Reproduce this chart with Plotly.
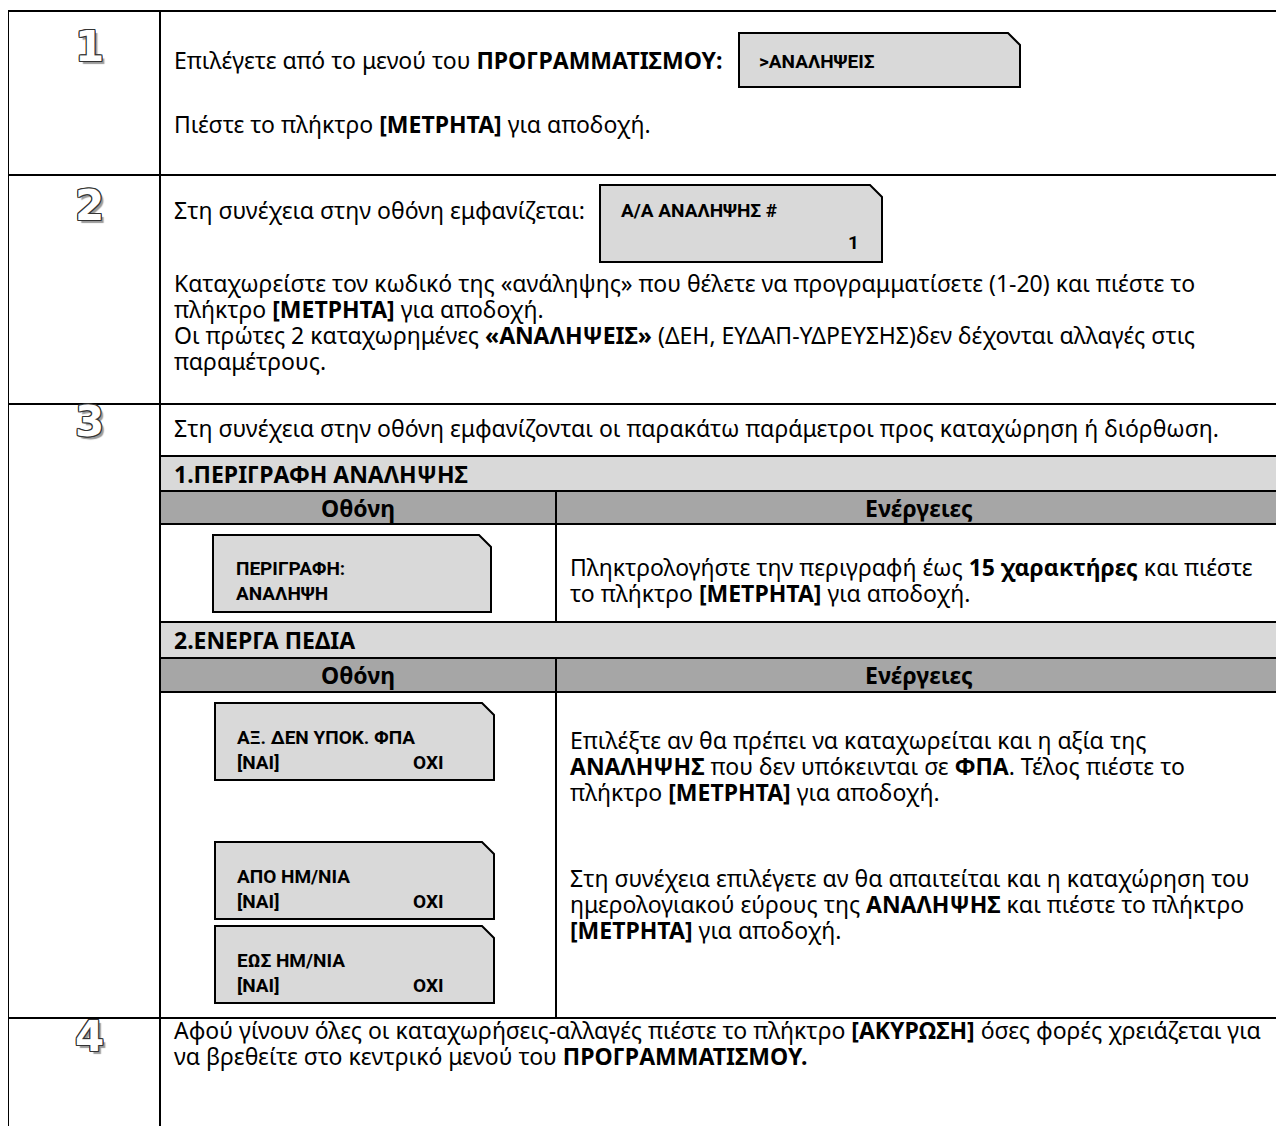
import plotly.graph_objects as go

# ---------------- content (data) ----------------
step_labels = ["1", "2", "3", "4"]

row1_lines = ["Επιλέγετε από το μενού του <b>ΠΡΟΓΡΑΜΜΑΤΙΣΜΟΥ:</b>",
              "Πιέστε το πλήκτρο <b>[ΜΕΤΡΗΤΑ]</b> για αποδοχή."]
row1_screen = [">ΑΝΑΛΗΨΕΙΣ"]

row2_lines = ["Στη συνέχεια στην οθόνη εμφανίζεται:",
              "Καταχωρείστε τον κωδικό της «ανάληψης» που θέλετε να προγραμματίσετε (1-20) και πιέστε το",
              "πλήκτρο <b>[ΜΕΤΡΗΤΑ]</b> για αποδοχή.",
              "Οι πρώτες 2 καταχωρημένες <b>«ΑΝΑΛΗΨΕΙΣ»</b> (ΔΕΗ, ΕΥΔΑΠ-ΥΔΡΕΥΣΗΣ)δεν δέχονται αλλαγές στις",
              "παραμέτρους."]
row2_screen = ["Α/Α ΑΝΑΛΗΨΗΣ #", "1"]

row3_intro = "Στη συνέχεια στην οθόνη εμφανίζονται οι παρακάτω παράμετροι προς καταχώρηση ή διόρθωση."
section_titles = ["1.ΠΕΡΙΓΡΑΦΗ ΑΝΑΛΗΨΗΣ", "2.ΕΝΕΡΓΑ ΠΕΔΙΑ"]
column_headers = ["Οθόνη", "Ενέργειες"]

sec1_screen = ["ΠΕΡΙΓΡΑΦΗ:", "ΑΝΑΛΗΨΗ"]
sec1_actions = ["Πληκτρολογήστε την περιγραφή έως <b>15 χαρακτήρες</b> και πιέστε",
                "το πλήκτρο <b>[ΜΕΤΡΗΤΑ]</b> για αποδοχή."]

sec2_screens = [["ΑΞ. ΔΕΝ ΥΠΟΚ. ΦΠΑ", "[ΝΑΙ]", "ΟΧΙ"],
                ["ΑΠΟ ΗΜ/ΝΙΑ", "[ΝΑΙ]", "ΟΧΙ"],
                ["ΕΩΣ ΗΜ/ΝΙΑ", "[ΝΑΙ]", "ΟΧΙ"]]
sec2_actions_a = ["Επιλέξτε αν θα πρέπει να καταχωρείται και η αξία της",
                  "<b>ΑΝΑΛΗΨΗΣ</b> που δεν υπόκεινται σε <b>ΦΠΑ</b>. Τέλος πιέστε το",
                  "πλήκτρο <b>[ΜΕΤΡΗΤΑ]</b> για αποδοχή."]
sec2_actions_b = ["Στη συνέχεια επιλέγετε αν θα απαιτείται και η καταχώρηση του",
                  "ημερολογιακού εύρους της <b>ΑΝΑΛΗΨΗΣ</b> και πιέστε το πλήκτρο",
                  "<b>[ΜΕΤΡΗΤΑ]</b> για αποδοχή."]

row4_lines = ["Αφού γίνουν όλες οι καταχωρήσεις-αλλαγές πιέστε το πλήκτρο <b>[ΑΚΥΡΩΣΗ]</b> όσες φορές χρειάζεται για",
              "να βρεθείτε στο κεντρικό μενού του <b>ΠΡΟΓΡΑΜΜΑΤΙΣΜΟΥ.</b>"]

# ---------------- layout geometry (page pixel units) ----------------
PAGE_W, PAGE_H = 1284, 1126
BODY_MARGIN = 8            # default page margin around the plot div
X_LEFT, X_DIV, X_RIGHT = 8, 160, 1300
Y_TOP = 11
ROW_LINES = [175, 404, 1018]
SUB_X_DIV = 556
TEXT_X = 172
ACT_X = 568
LINE_H = 26

BODY_FONT = dict(family="Noto Sans, Open Sans, DejaVu Sans", size=23, color="#000")
SCR_FONT = dict(family="Liberation Sans Narrow, Roboto, Liberation Sans", size=19, color="#000")
DIGIT_FONT = dict(family="DejaVu Sans", size=42, color="white", weight="bold",
                  shadow=("-1px -1px 0 #333, 1px -1px 0 #333, -1px 1px 0 #333, 1px 1px 0 #333, "
                          "0 -1px 0 #333, 0 1px 0 #333, -1px 0 0 #333, 1px 0 0 #333, "
                          "3px 3px 1px #9a9a9a"))

LIGHT = "#d9d9d9"
DARK = "#a6a6a6"

fig = go.Figure()
shapes = []
annotations = []


def line(x0, y0, x1, y1, w=2):
    shapes.append(dict(type="line", xref="x", yref="y", x0=x0, y0=y0, x1=x1, y1=y1,
                       line=dict(color="black", width=w), layer="above"))


def rect(x0, y0, x1, y1, color):
    shapes.append(dict(type="rect", xref="x", yref="y", x0=x0, y0=y0, x1=x1, y1=y1,
                       fillcolor=color, line=dict(width=0), layer="below"))


def text(x, y, s, font=None, anchor="left", bold=False):
    f = dict(font or BODY_FONT)
    annotations.append(dict(x=x, y=y, xref="x", yref="y", text=("<b>%s</b>" % s) if bold else s,
                            showarrow=False, xanchor=anchor, yanchor="middle", font=f,
                            align=anchor if anchor != "center" else "center"))


def screen(x0, y0, x1, y1, c=12):
    path = "M %d,%d L %d,%d L %d,%d L %d,%d L %d,%d Z" % (x0, y0, x1 - c, y0, x1, y0 + c, x1, y1, x0, y1)
    shapes.append(dict(type="path", xref="x", yref="y", path=path, fillcolor=LIGHT,
                       line=dict(color="black", width=2), layer="above"))


# grey bands of the sub table: (light top, dark top, dark bottom, section bottom)
sub_rows = [(456, 491, 524, 622), (622, 658, 692, 1018)]
for (a, b, c, d) in sub_rows:
    rect(X_DIV, a, X_RIGHT, b, LIGHT)
    rect(X_DIV, b, X_RIGHT, c, DARK)

# main table borders
line(X_LEFT, Y_TOP, X_RIGHT, Y_TOP)
line(X_LEFT, Y_TOP, X_LEFT, PAGE_H + 10)
line(X_DIV, Y_TOP, X_DIV, PAGE_H + 10)
for y in ROW_LINES:
    line(X_LEFT, y, X_RIGHT, y)

# sub table lines
for (a, b, c, d) in sub_rows:
    line(X_DIV, a, X_RIGHT, a)
    line(X_DIV, b, X_RIGHT, b)
    line(X_DIV, c, X_RIGHT, c)
    line(SUB_X_DIV, b, SUB_X_DIV, d)

# step digits (outlined with a drop shadow)
digit_y = [46, 205, 421, 1036]
for lab, y in zip(step_labels, digit_y):
    text(89, y, lab, DIGIT_FONT, anchor="center")

# row 1
text(TEXT_X, 60, row1_lines[0])
text(TEXT_X, 124, row1_lines[1])
screen(739, 33, 1020, 87)
text(757, 61, row1_screen[0], SCR_FONT, bold=True)

# row 2
text(TEXT_X, 210, row2_lines[0])
screen(600, 185, 882, 262)
text(619, 210, row2_screen[0], SCR_FONT, bold=True)
text(853, 242, row2_screen[1], SCR_FONT, anchor="center", bold=True)
for i, s in enumerate(row2_lines[1:]):
    text(TEXT_X, 283 + i * LINE_H, s)

# row 3
text(TEXT_X, 428, row3_intro)
for (a, b, c, d), title in zip(sub_rows, section_titles):
    text(TEXT_X, (a + b) / 2, title, bold=True)
    text((X_DIV + SUB_X_DIV) / 2, (b + c) / 2, column_headers[0], anchor="center", bold=True)
    text((SUB_X_DIV + 1282) / 2, (b + c) / 2, column_headers[1], anchor="center", bold=True)

screen(213, 535, 491, 612)
text(234, 568, sec1_screen[0], SCR_FONT, bold=True)
text(234, 593, sec1_screen[1], SCR_FONT, bold=True)
for i, s in enumerate(sec1_actions):
    text(ACT_X, 567 + i * LINE_H, s)

scr_tops = [703, 842, 926]
for top, sc in zip(scr_tops, sec2_screens):
    screen(215, top, 494, top + 77)
    text(235, top + 34, sc[0], SCR_FONT, bold=True)
    text(235, top + 59, sc[1], SCR_FONT, bold=True)
    text(446, top + 59, sc[2], SCR_FONT, anchor="right", bold=True)

for i, s in enumerate(sec2_actions_a):
    text(ACT_X, 740 + i * LINE_H, s)
for i, s in enumerate(sec2_actions_b):
    text(ACT_X, 878 + i * LINE_H, s)

# row 4
for i, s in enumerate(row4_lines):
    text(TEXT_X, 1030 + i * LINE_H, s)

fig.update_layout(
    width=PAGE_W - BODY_MARGIN, height=PAGE_H - BODY_MARGIN,
    margin=dict(l=0, r=0, t=0, b=0),
    paper_bgcolor="white", plot_bgcolor="white",
    xaxis=dict(range=[BODY_MARGIN, PAGE_W], visible=False, fixedrange=True),
    yaxis=dict(range=[PAGE_H, BODY_MARGIN], visible=False, fixedrange=True),
    shapes=shapes, annotations=annotations, showlegend=False,
)
fig.write_html("out.html", config=dict(displayModeBar=False))
